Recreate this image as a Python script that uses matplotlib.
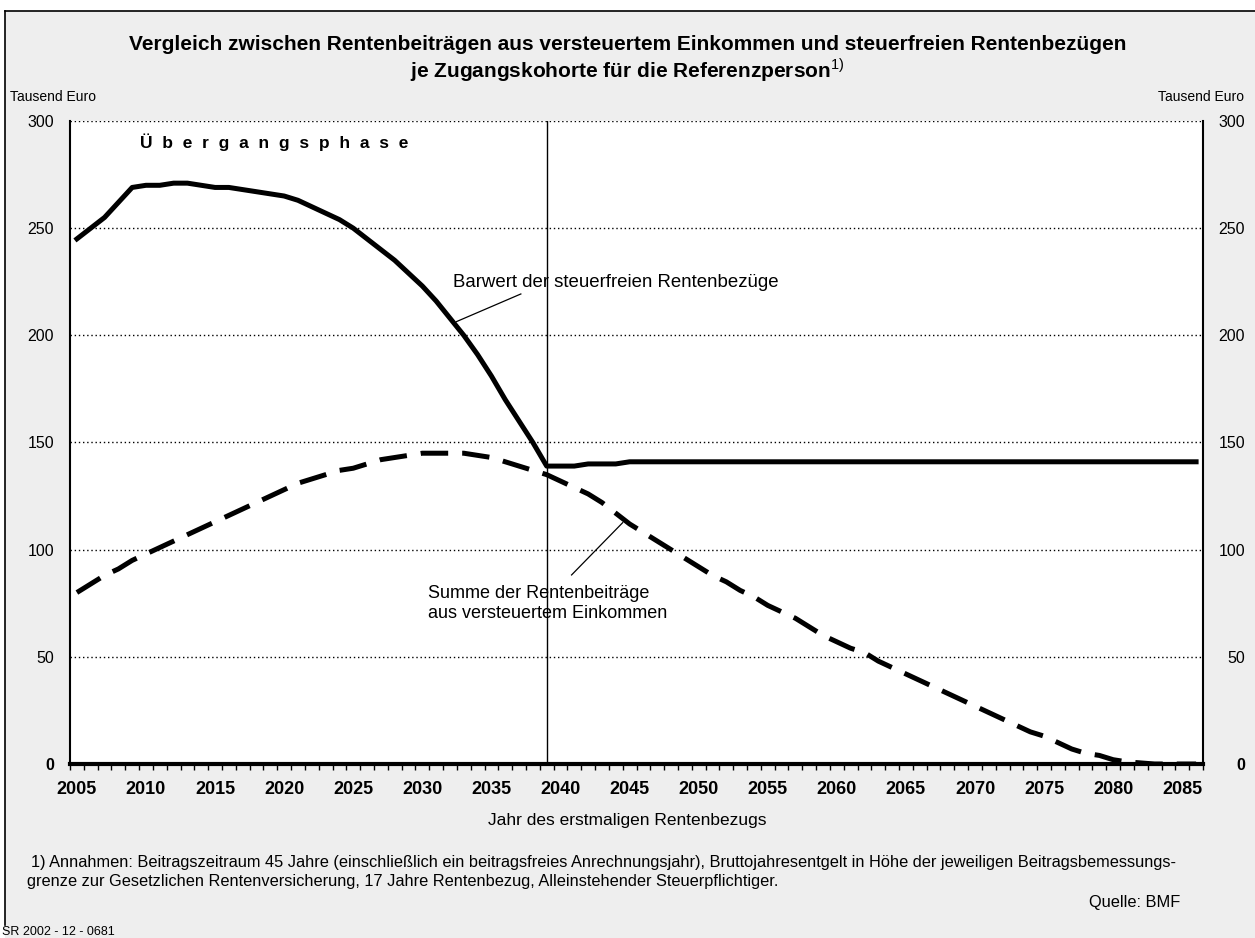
import matplotlib.pyplot as plt
import matplotlib.transforms as mtransforms
from matplotlib.lines import Line2D
from matplotlib.patches import Rectangle

plt.rcParams['font.family'] = ['Liberation Sans', 'DejaVu Sans']
plt.rcParams['mathtext.fontset'] = 'custom'
plt.rcParams['mathtext.rm'] = 'Liberation Sans'

# Jahr des erstmaligen Rentenbezugs (Zugangskohorten)
years = list(range(2005, 2087))

# Barwert der steuerfreien Rentenbezuege, Tausend Euro
barwert = [245, 250, 255, 262, 269, 270, 270, 271, 271, 270,
           269, 269, 268, 267, 266, 265, 263, 260, 257, 254,
           250, 245, 240, 235, 229, 223, 216, 208, 200, 191,
           181, 170, 160, 150, 139, 139, 139, 140, 140, 140,
           141, 141, 141, 141, 141, 141, 141, 141, 141, 141,
           141, 141, 141, 141, 141, 141, 141, 141, 141, 141,
           141, 141, 141, 141, 141, 141, 141, 141, 141, 141,
           141, 141, 141, 141, 141, 141, 141, 141, 141, 141,
           141, 141]

# Summe der Rentenbeitraege aus versteuertem Einkommen, Tausend Euro
beitraege = [80, 84, 88, 91, 95, 98, 101, 104, 107, 110,
             113, 116, 119, 122, 125, 128, 131, 133, 135, 137,
             138, 140, 142, 143, 144, 145, 145, 145, 145, 144,
             143, 141, 139, 137, 135, 132, 129, 126, 122, 117,
             112, 108, 104, 100, 96, 92, 88, 85, 81, 78,
             74, 71, 68, 64, 60, 57, 54, 52, 48, 45,
             42, 39, 36, 33, 30, 27, 24, 21, 18, 15,
             13, 10, 7, 5, 4, 2, 1, 0.5, 0, 0,
             0, 0]

label_years = list(range(2005, 2086, 5))
y_ticks = [0, 50, 100, 150, 200, 250, 300]
phase_end = 2039

fig = plt.figure(figsize=(12.55, 9.38), dpi=100, facecolor='white')

# grauer Hintergrund mit Rahmen oben und links
W, H = 1255, 938
fig.patches.append(Rectangle((5 / W, 0), 1, 1 - 11 / H, transform=fig.transFigure,
                             facecolor='#eeeeee', edgecolor='none', zorder=-10))
fig.lines.append(Line2D([5 / W, 1], [1 - 11 / H, 1 - 11 / H], transform=fig.transFigure,
                        color='black', lw=1.2))
fig.lines.append(Line2D([5 / W, 5 / W], [1 - 925 / H, 1 - 11 / H], transform=fig.transFigure,
                        color='black', lw=1.2))

ax = fig.add_axes([70 / W, 1 - 764 / H, (1203 - 70) / W, (764 - 121) / H])
ax.set_facecolor('white')

ax.plot(years, barwert, color='black', lw=3.6, solid_joinstyle='round', zorder=4)
ax.plot(years, beitraege, color='black', lw=3.6, dashes=(5.5, 2.8), zorder=4)
ax.axvline(phase_end, color='black', lw=1.0, zorder=3)

ax.set_xlim(2004.5, 2086.5)
ax.set_ylim(0, 300)

# Achsen
ax.spines['top'].set_visible(False)
ax.spines['left'].set_linewidth(1.5)
ax.spines['right'].set_linewidth(1.5)
ax.spines['bottom'].set_linewidth(3)
ax.spines['bottom'].set_zorder(5)

ax.set_yticks(y_ticks)
ax.set_yticklabels([str(v) for v in y_ticks])
ax.yaxis.grid(True, color='black', lw=1.0, linestyle=(0, (1, 2)))
ax.set_axisbelow(True)
ax.tick_params(axis='y', length=0, labelsize=11.5, labelright=True, pad=11.5)

# rechte Beschriftung rechtsbuendig
offset = mtransforms.ScaledTranslation(18.7 / 72, 0, fig.dpi_scale_trans)
for t in ax.yaxis.get_major_ticks():
    t.label2.set_horizontalalignment('right')
    t.label2.set_transform(t.label2.get_transform() + offset)
ax.yaxis.get_major_ticks()[0].label1.set_fontweight('bold')
ax.yaxis.get_major_ticks()[0].label2.set_fontweight('bold')

ax.set_xticks(label_years)
ax.set_xticklabels([str(y) for y in label_years], fontweight='bold', fontsize=13)
ax.set_xticks([y - 0.5 for y in years] + [2086.5], minor=True)
ax.tick_params(axis='x', which='major', length=0, pad=12)
ax.tick_params(axis='x', which='minor', length=4, width=1.0, direction='out')

# Beschriftungen im Diagramm
ax.text(2019.3, 290.3, 'Ü  b  e  r  g  a  n  g  s  p  h  a  s  e', fontsize=12.5, fontweight='bold',
        ha='center', va='center')
ax.text(2032.2, 224.5, 'Barwert der steuerfreien Rentenbezüge', fontsize=13.4,
        ha='left', va='center')
ax.plot([2032.47, 2037.13], [206.4, 219.3], color='black', lw=0.9)
ax.text(2030.4, 75, 'Summe der Rentenbeiträge\naus versteuertem Einkommen', fontsize=13,
        ha='left', va='center', linespacing=1.2)
ax.plot([2040.8, 2044.5], [88.2, 112.6], color='black', lw=0.9)

# Titel und Texte ausserhalb des Diagramms
fig.text(0.5, 1 - 45 / H, 'Vergleich zwischen Rentenbeiträgen aus versteuertem Einkommen und steuerfreien Rentenbezügen',
         ha='center', va='center', fontsize=15, fontweight='bold')
fig.text(0.5, 1 - 70 / H, r'je Zugangskohorte für die Referenzperson$^{\mathrm{1)}}$',
         ha='center', va='center', fontsize=15, fontweight='bold')
fig.text(10 / W, 1 - 97 / H, 'Tausend Euro', ha='left', va='center', fontsize=10)
fig.text(1244 / W, 1 - 97 / H, 'Tausend Euro', ha='right', va='center', fontsize=10)
fig.text(0.5, 1 - 820 / H, 'Jahr des erstmaligen Rentenbezugs', ha='center', va='center', fontsize=12.5)
fig.text(31 / W, 1 - 862 / H,
         '1) Annahmen: Beitragszeitraum 45 Jahre (einschließlich ein beitragsfreies Anrechnungsjahr), '
         'Bruttojahresentgelt in Höhe der jeweiligen Beitragsbemessungs-',
         ha='left', va='center', fontsize=11.75)
fig.text(27 / W, 1 - 881 / H,
         'grenze zur Gesetzlichen Rentenversicherung, 17 Jahre Rentenbezug, Alleinstehender Steuerpflichtiger.',
         ha='left', va='center', fontsize=11.75)
fig.text(1180 / W, 1 - 902 / H, 'Quelle: BMF', ha='right', va='center', fontsize=11.75)
fig.text(2 / W, 1 - 932 / H, 'SR 2002 - 12 - 0681', ha='left', va='center', fontsize=9)

fig.savefig('out.png', dpi=100, facecolor=fig.get_facecolor())
